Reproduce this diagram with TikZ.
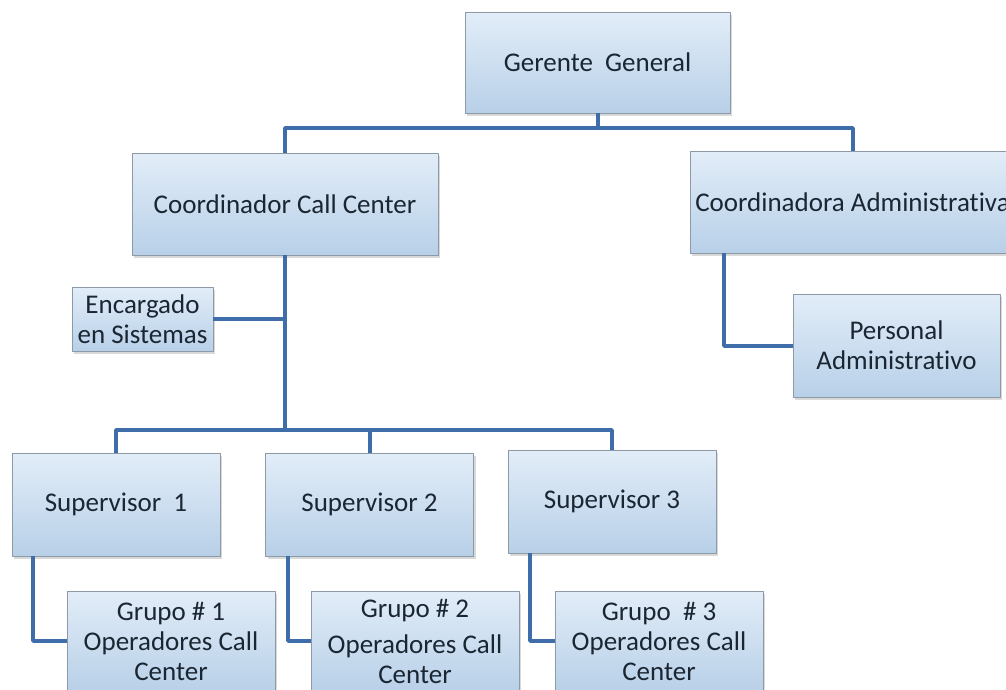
\documentclass[tikz,border=0pt]{standalone}
\usepackage{fontspec}
\setmainfont[Ligatures={NoCommon}]{Carlito}
\usetikzlibrary{shadows}
\definecolor{boxtop}{HTML}{E2EDF8}
\definecolor{boxbottom}{HTML}{B8D0E8}
\definecolor{boxline}{HTML}{8C9AA8}
\definecolor{linkblue}{HTML}{3E6DAA}
\definecolor{inkdark}{HTML}{1B2633}

\begin{document}
\begin{tikzpicture}[x=1pt,y=-1pt,line join=bevel,
  orgbox/.style={draw=boxline,line width=0.8pt,top color=boxtop,bottom color=boxbottom,
    align=center,inner sep=2pt,text=inkdark,font=\fontsize{27}{30}\selectfont,
    drop shadow={opacity=0.3,shadow xshift=2pt,shadow yshift=-2.5pt}},
  link/.style={draw=linkblue,line width=4pt}]
\useasboundingbox (0,0) rectangle (1006,689);
%%
\node (node_gerente) at (597.5,62.5) [orgbox,minimum width=265pt,minimum height=101pt] {Gerente~ General};
\node (node_callcenter) at (285,204) [orgbox,minimum width=306pt,minimum height=102pt] {Coordinador Call Center};
\node (node_admin) at (852.5,202) [orgbox,minimum width=325pt,minimum height=102pt] {Coordinadora Administrativa};
\node (node_sistemas) at (142.5,319) [orgbox,minimum width=141pt,minimum height=64pt] {Encargado\\en Sistemas};
\node (node_personal) at (896.5,345.5) [orgbox,minimum width=207pt,minimum height=103pt] {Personal\\Administrativo};
\node (node_sup_1) at (116,504.5) [orgbox,minimum width=208pt,minimum height=103pt] {Supervisor~ 1};
\node (node_sup_2) at (369.5,504.5) [orgbox,minimum width=208pt,minimum height=103pt] {Supervisor 2};
\node (node_sup_3) at (612,501.5) [orgbox,minimum width=208pt,minimum height=103pt] {Supervisor 3};
\node (node_grupo_1) at (171,641) [orgbox,minimum width=208pt,minimum height=100pt] {Grupo \# 1\\Operadores Call\\Center};
\node (node_grupo_2) at (415,641) [orgbox,minimum width=208pt,minimum height=100pt] {Grupo \# 2\\[6pt]Operadores Call\\Center};
\node (node_grupo_3) at (659,641) [orgbox,minimum width=208pt,minimum height=100pt] {Grupo~ \# 3\\Operadores Call\\Center};
%
\coordinate (bus_top) at (597.5,128);
\coordinate (bus_sup) at (285,430);
\draw [link] (node_gerente) -- (bus_top);
\draw [link] (bus_top) -| (node_callcenter);
\draw [link] (bus_top) -| (node_admin);
\draw [link] (node_callcenter) -- (bus_sup);
\draw [link] (node_sistemas.east) -- (node_sistemas.east -| bus_sup);
\draw [link] (bus_sup) -| (node_sup_1);
\draw [link] (bus_sup) -| (node_sup_2);
\draw [link] (bus_sup) -| (node_sup_3);
\draw [link] ([xshift=21pt]node_sup_1.south west) |- (node_grupo_1.west);
\draw [link] ([xshift=23pt]node_sup_2.south west) |- (node_grupo_2.west);
\draw [link] ([xshift=22pt]node_sup_3.south west) |- (node_grupo_3.west);
\draw [link] ([xshift=34pt]node_admin.south west) |- (node_personal.west);
%
\end{tikzpicture}
\end{document}
